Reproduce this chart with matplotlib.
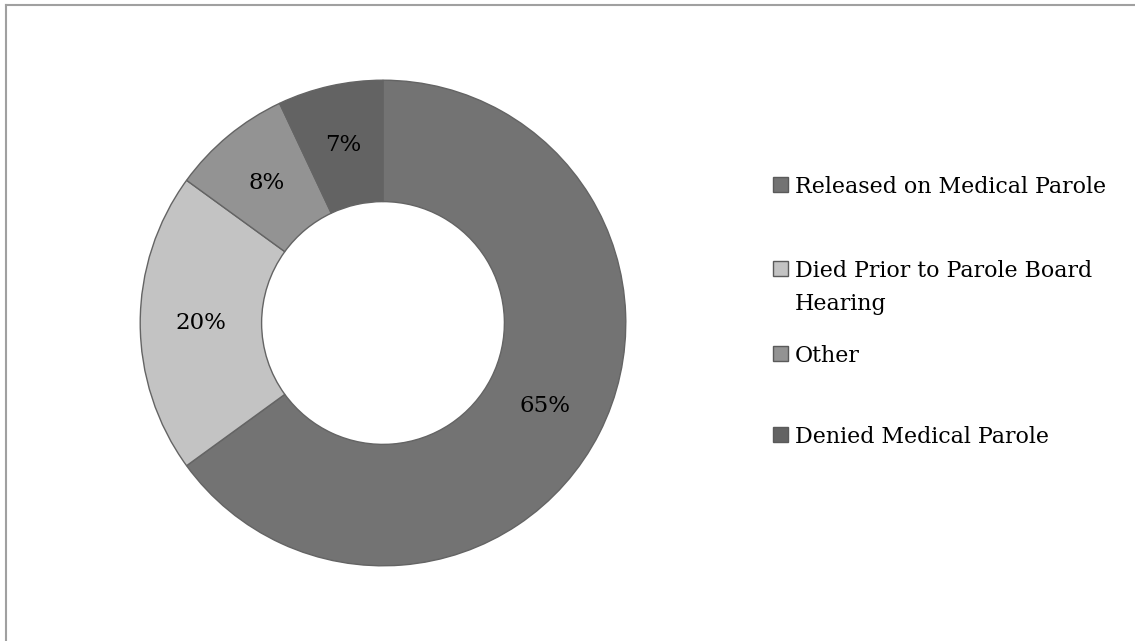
import matplotlib.pyplot as plt
from matplotlib.patches import Rectangle
from matplotlib.lines import Line2D

# data
labels = ["Released on Medical Parole", "Died Prior to Parole Board\nHearing",
          "Other", "Denied Medical Parole"]
values = [65, 20, 8, 7]
colors = ["#737373", "#c3c3c3", "#939393", "#636363"]

FONT = "DejaVu Serif"
W, H = 1135, 641

fig = plt.figure(figsize=(W / 100, H / 100), dpi=100)

# frame of the chart area (only top and left edges visible)
fig.add_artist(Line2D([6 / W, 1], [1 - 5 / H, 1 - 5 / H], color="#a0a0a0", lw=1.5))
fig.add_artist(Line2D([6 / W, 6 / W], [0, 1 - 5 / H], color="#a0a0a0", lw=1.5))

# donut, centre at (383, 323) px, outer radius 244 px
cx, cy, r = 383, 323, 244
ax = fig.add_axes([(cx - r) / W, (H - cy - r) / H, 2 * r / W, 2 * r / H])
wedges, texts, autotexts = ax.pie(
    values, colors=colors, startangle=90, counterclock=False,
    autopct="%1.0f%%", pctdistance=0.75,
    wedgeprops=dict(width=0.5, edgecolor="#646464", linewidth=1),
    textprops=dict(fontsize=16.5, family=FONT, color="black"))
ax.set_xlim(-1.005, 1.005)
ax.set_ylim(-1.005, 1.005)
ax.set_aspect("equal")
ax.axis("off")

# legend drawn by hand so every entry gets the same slot height
legend_base = [193, 277, 362, 443]
for lab, col, y in zip(labels, colors, legend_base):
    fig.add_artist(Rectangle((773 / W, 1 - (y - 1) / H), 15 / W, 15 / H,
                             facecolor=col, edgecolor="#5a5a5a", linewidth=1,
                             transform=fig.transFigure))
    for i, line in enumerate(lab.split("\n")):
        fig.text(795 / W, 1 - (y + 33 * i) / H, line, fontsize=15.9,
                 family=FONT, va="baseline", ha="left")

fig.savefig("out.png", dpi=100)
